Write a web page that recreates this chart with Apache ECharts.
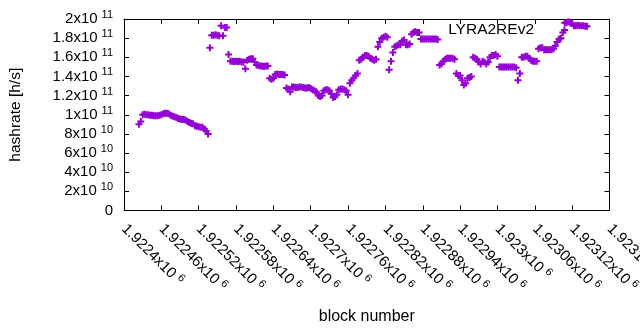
<!DOCTYPE html>
<html>
<head>
<meta charset="utf-8">
<script src="https://cdn.jsdelivr.net/npm/echarts@6/dist/echarts.min.js"></script>
<style>
html,body{margin:0;padding:0;background:#fff;}
#chart{width:640px;height:330px;}
</style>
</head>
<body>
<div id="chart"></div>
<script>
const seriesName = 'LYRA2REv2';
const xAxisTitle = 'block number';
const yAxisTitle = 'hashrate [h/s]';
const xTickStart = 1922400;
const xTickEnd = 1923180;
const xTickStep = 60;
const yTickMax = 2e11;
const yTickStep = 2e10;

// block numbers: every third block from 1922424 to 1923144
const blocks = [
  1922424,1922427,1922430,1922433,1922436,1922439,1922442,1922445,1922448,1922451,
  1922454,1922457,1922460,1922463,1922466,1922469,1922472,1922475,1922478,1922481,
  1922484,1922487,1922490,1922493,1922496,1922499,1922502,1922505,1922508,1922511,
  1922514,1922517,1922520,1922523,1922526,1922529,1922532,1922535,1922538,1922541,
  1922544,1922547,1922550,1922553,1922556,1922559,1922562,1922565,1922568,1922571,
  1922574,1922577,1922580,1922583,1922586,1922589,1922592,1922595,1922598,1922601,
  1922604,1922607,1922610,1922613,1922616,1922619,1922622,1922625,1922628,1922631,
  1922634,1922637,1922640,1922643,1922646,1922649,1922652,1922655,1922658,1922661,
  1922664,1922667,1922670,1922673,1922676,1922679,1922682,1922685,1922688,1922691,
  1922694,1922697,1922700,1922703,1922706,1922709,1922712,1922715,1922718,1922721,
  1922724,1922727,1922730,1922733,1922736,1922739,1922742,1922745,1922748,1922751,
  1922754,1922757,1922760,1922763,1922766,1922769,1922772,1922775,1922778,1922781,
  1922784,1922787,1922790,1922793,1922796,1922799,1922802,1922805,1922808,1922811,
  1922814,1922817,1922820,1922823,1922826,1922829,1922832,1922835,1922838,1922841,
  1922844,1922847,1922850,1922853,1922856,1922859,1922862,1922865,1922868,1922871,
  1922874,1922877,1922880,1922883,1922886,1922889,1922892,1922895,1922898,1922901,
  1922904,1922907,1922910,1922913,1922916,1922919,1922922,1922925,1922928,1922931,
  1922934,1922937,1922940,1922943,1922946,1922949,1922952,1922955,1922958,1922961,
  1922964,1922967,1922970,1922973,1922976,1922979,1922982,1922985,1922988,1922991,
  1922994,1922997,1923000,1923003,1923006,1923009,1923012,1923015,1923018,1923021,
  1923024,1923027,1923030,1923033,1923036,1923039,1923042,1923045,1923048,1923051,
  1923054,1923057,1923060,1923063,1923066,1923069,1923072,1923075,1923078,1923081,
  1923084,1923087,1923090,1923093,1923096,1923099,1923102,1923105,1923108,1923111,
  1923114,1923117,1923120,1923123,1923126,1923129,1923132,1923135,1923138,1923141,
  1923144
];
// hashrate in units of 1e10 h/s, one value per block above
const hashrateE10 = [
  9.0,9.3,10.0,10.05,10.0,10.0,9.95,9.95,9.9,9.9,
  9.9,9.95,10.0,10.1,10.15,10.15,10.1,9.95,9.85,9.8,
  9.7,9.6,9.55,9.5,9.5,9.45,9.3,9.2,9.1,9.05,
  8.85,8.8,8.75,8.7,8.7,8.5,8.3,8.0,17.0,18.3,
  18.3,18.35,18.3,18.25,19.3,18.25,19.1,19.1,16.3,15.6,
  15.6,15.55,15.6,15.55,15.6,15.5,15.5,14.8,15.7,15.8,
  15.85,15.85,15.5,15.2,15.15,15.1,15.1,15.05,15.1,15.1,
  13.8,13.7,13.8,14.2,14.25,14.2,14.2,14.2,14.15,12.8,
  12.7,12.4,12.9,12.9,12.85,12.85,12.9,12.9,12.85,12.8,
  12.8,12.85,12.75,12.6,12.5,12.4,12.0,11.9,12.0,12.5,
  12.6,12.6,12.5,12.2,11.8,11.9,12.1,12.6,12.7,12.7,
  12.6,12.5,12.1,13.3,13.6,13.8,14.1,14.3,15.7,15.8,
  16.0,16.2,16.2,16.1,15.9,15.8,15.7,15.8,17.1,17.6,
  18.0,18.1,18.2,18.1,14.7,15.6,16.5,17.1,17.2,17.3,
  17.3,17.7,17.8,17.3,17.3,17.4,18.4,18.6,18.7,18.6,
  18.6,17.9,17.9,17.9,17.9,17.9,17.9,17.9,17.9,17.9,
  17.85,15.2,15.3,15.6,15.8,15.9,15.9,15.9,15.9,15.8,
  14.3,14.1,14.1,13.6,13.1,13.3,13.8,13.9,14.0,16.0,
  15.9,15.8,15.5,15.3,15.6,15.5,15.3,15.5,16.0,16.2,
  16.2,16.3,16.1,15.0,15.0,15.0,15.0,15.0,15.0,15.0,
  15.0,15.0,14.9,13.6,14.3,16.0,16.0,16.1,16.1,15.9,
  15.7,15.6,15.6,15.6,16.9,17.0,17.0,16.8,16.8,16.8,
  16.8,16.8,16.9,17.2,17.6,17.9,18.0,18.6,19.6,19.6,
  19.7,19.6,19.5,19.3,19.3,19.35,19.3,19.3,19.3,19.25,
  19.25
];

const points = blocks.map((b, i) => [b, hashrateE10[i] * 1e10]);
const plusPath = 'path://M0,2.5H7V4.5H0Z M2.5,0H4.5V7H2.5Z';
const color = '#9400D3';
const font = '"Liberation Sans", Arial, sans-serif';

function fmtX(v) {
  let s = (v / 1e6).toFixed(5).replace(/0+$/, '').replace(/\.$/, '');
  return '{m|' + s + 'x10}{s|6}';
}
function fmtY(v) {
  if (v === 0) return '{m|0}';
  const e = Math.floor(Math.log10(v) + 1e-9);
  let m = (v / Math.pow(10, e)).toFixed(2).replace(/0+$/, '').replace(/\.$/, '');
  return '{m|' + m + 'x10}{s|' + e + '}';
}
const rich = {
  m: {fontSize: 15, fontFamily: font, color: '#000', lineHeight: 18},
  s: {fontSize: 11, fontFamily: font, color: '#000', padding: [0, 0, 8, 4]}
};

const chart = echarts.init(document.getElementById('chart'), null, {renderer: 'canvas'});
chart.setOption({
  animation: false,
  backgroundColor: '#fff',
  textStyle: {fontFamily: font},
  grid: {left: 124, right: 30.5, top: 19, bottom: 119.5, containLabel: false, outerBoundsMode: 'none'},
  legend: {
    right: 72, top: 22, padding: 0, align: 'right',
    icon: plusPath, itemWidth: 7, itemHeight: 7,
    textStyle: {fontSize: 15.5, fontFamily: font, color: '#000', padding: [0, 22, 0, 0]},
    data: [seriesName]
  },
  xAxis: [{
    type: 'value', position: 'bottom', min: xTickStart, max: xTickEnd, interval: xTickStep,
    name: xAxisTitle, nameLocation: 'middle', nameGap: 98,
    nameTextStyle: {fontSize: 16, fontFamily: font, color: '#000'},
    axisLine: {show: true, lineStyle: {color: '#000', width: 1}},
    axisTick: {show: true, inside: true, length: 5, lineStyle: {color: '#000'}},
    axisLabel: {rotate: -45, margin: 16, showMaxLabel: true, showMinLabel: true, hideOverlap: false, formatter: fmtX, rich: rich},
    splitLine: {show: false}
  }, {
    type: 'value', position: 'top', min: xTickStart, max: xTickEnd, interval: xTickStep,
    axisLine: {show: true, onZero: false, lineStyle: {color: '#000', width: 1}},
    axisTick: {show: true, inside: true, length: 5, lineStyle: {color: '#000'}},
    axisLabel: {show: false}, splitLine: {show: false}
  }],
  yAxis: [{
    type: 'value', position: 'left', min: 0, max: yTickMax, interval: yTickStep,
    name: yAxisTitle, nameLocation: 'middle', nameGap: 100,
    nameTextStyle: {fontSize: 15.5, fontFamily: font, color: '#000'},
    axisLine: {show: true, lineStyle: {color: '#000', width: 1}},
    axisTick: {show: true, inside: true, length: 5, lineStyle: {color: '#000'}},
    axisLabel: {margin: 11, formatter: fmtY, rich: rich},
    splitLine: {show: false}
  }, {
    type: 'value', position: 'right', min: 0, max: yTickMax, interval: yTickStep,
    axisLine: {show: true, onZero: false, lineStyle: {color: '#000', width: 1}},
    axisTick: {show: true, inside: true, length: 5, lineStyle: {color: '#000'}},
    axisLabel: {show: false}, splitLine: {show: false}
  }],
  series: [{
    name: seriesName, type: 'scatter', xAxisIndex: 0, yAxisIndex: 0,
    data: points, symbol: plusPath, symbolSize: 7,
    itemStyle: {color: color, opacity: 1}
  }]
});
</script>
</body>
</html>
